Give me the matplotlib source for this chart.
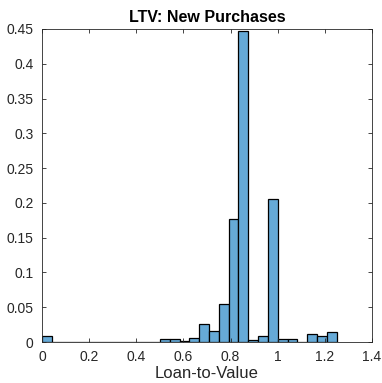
import numpy as np
import matplotlib
matplotlib.use("Agg")
import matplotlib.pyplot as plt

# histogram of LTV, 30 bins from 0 to 1.25 (normalised as probability)
bin_lo = 0.0
bin_hi = 1.25
n_bins = 30
probs = [0.0086, 0, 0, 0, 0, 0, 0, 0, 0, 0, 0, 0,
         0.0043, 0.0043, 0.002, 0.006, 0.026, 0.016, 0.054, 0.177,
         0.447, 0.0024, 0.008, 0.206, 0.0043, 0.0043, 0.0, 0.012,
         0.008, 0.014]

xticks = [0, 0.2, 0.4, 0.6, 0.8, 1, 1.2, 1.4]
xticklabels = ["0", "0.2", "0.4", "0.6", "0.8", "1", "1.2", "1.4"]
yticks = [0, 0.05, 0.1, 0.15, 0.2, 0.25, 0.3, 0.35, 0.4, 0.45]
yticklabels = ["0", "0.05", "0.1", "0.15", "0.2", "0.25", "0.3", "0.35", "0.4", "0.45"]

plt.rcParams["font.family"] = ["Liberation Sans", "DejaVu Sans"]

edges = np.linspace(bin_lo, bin_hi, n_bins + 1)
width = edges[1] - edges[0]

fig = plt.figure(figsize=(3.82, 3.83), dpi=100)
ax = fig.add_axes([42 / 382, 1 - 342 / 383, 330 / 382, 313 / 383])

ax.bar(edges[:-1], probs, width=width, align="edge",
       color="#66aad7", edgecolor="black", linewidth=0.9)

ax.set_xlim(0, 1.4)
ax.set_ylim(0, 0.45)
ax.set_xticks(xticks)
ax.set_xticklabels(xticklabels)
ax.set_yticks(yticks)
ax.set_yticklabels(yticklabels)

axcol = "#262626"
for s in ax.spines.values():
    s.set_color(axcol)
    s.set_linewidth(0.6)
ax.tick_params(direction="in", top=True, right=True, length=3, width=0.6,
               colors=axcol, labelsize=10)
ax.tick_params(axis="x", pad=6)
ax.tick_params(axis="y", pad=6)

ax.set_xlabel("Loan-to-Value", fontsize=12, color=axcol, labelpad=1)
ax.set_title("LTV: New Purchases", fontsize=11.5, fontweight="bold", pad=5)

fig.savefig("out.png", dpi=100)
